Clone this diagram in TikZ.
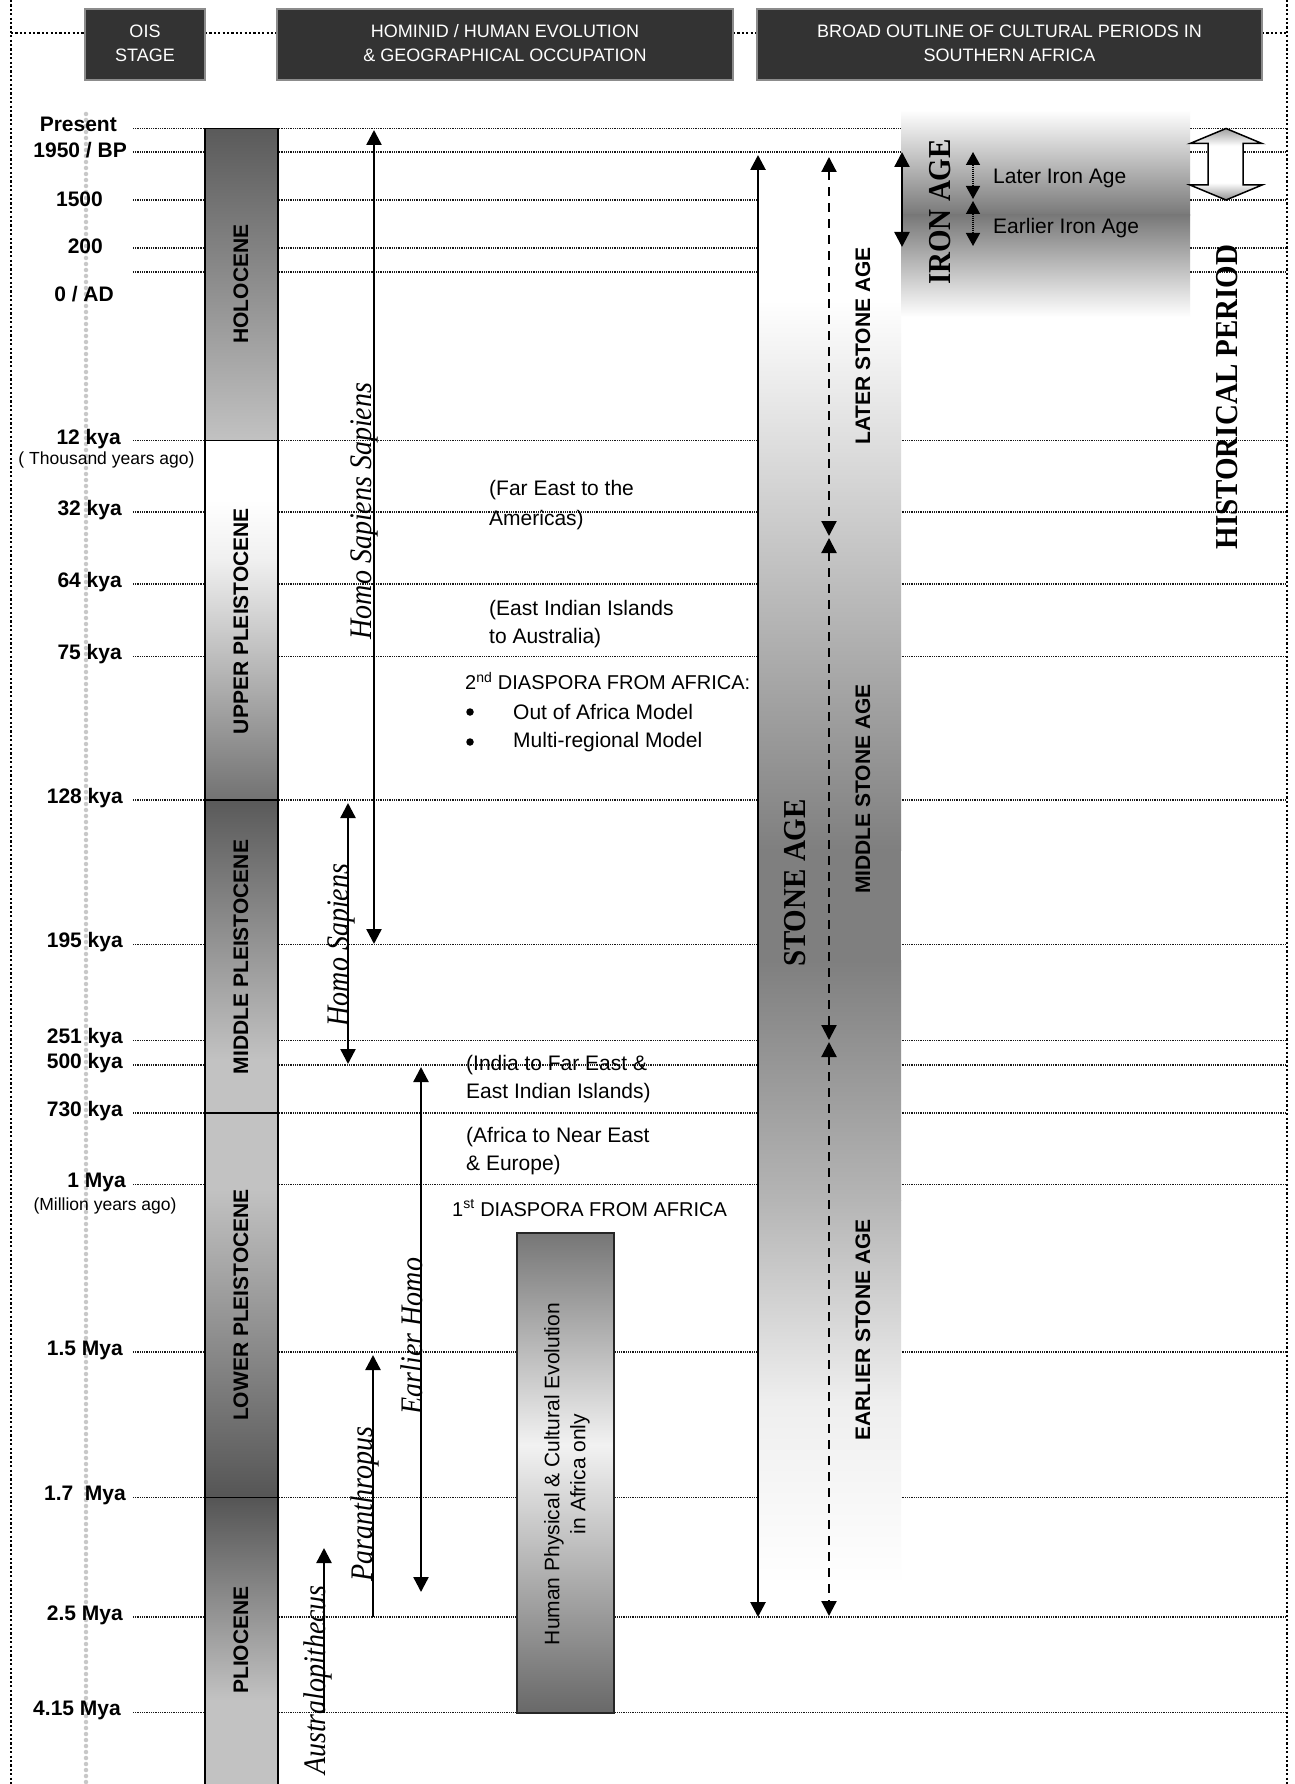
\documentclass[tikz,border=0pt]{standalone}
\usepackage{fontspec}
\setmainfont{Liberation Sans}
\newfontfamily\lsans{Liberation Sans}
\newfontfamily\lserif{Liberation Serif}
\usetikzlibrary{arrows.meta}
\definecolor{hdrfill}{HTML}{333333}
\definecolor{hdrline}{HTML}{8C8C8C}
\definecolor{gdot}{HTML}{C8C8C8}
\definecolor{lightg}{HTML}{C2C2C2}
\definecolor{darkg}{HTML}{5A5A5A}
\definecolor{darkh}{HTML}{555555}
\definecolor{midg}{HTML}{727272}
\definecolor{paleg}{HTML}{F0F0F0}
\definecolor{stoneg}{HTML}{7F7F7F}
\definecolor{stoneB}{HTML}{B5B5B5}
\definecolor{stoneC}{HTML}{EEEEEE}
\definecolor{irong}{HTML}{787878}
\definecolor{humA}{HTML}{767676}
\definecolor{humB}{HTML}{F2F2F2}
\definecolor{humC}{HTML}{686868}
\definecolor{histA}{HTML}{A0A0A0}
\definecolor{histB}{HTML}{909090}
\pgfdeclareverticalshading{histshade}{100bp}{color(0bp)=(histB); color(25bp)=(histB); color(37bp)=(white); color(63bp)=(white); color(75bp)=(histA); color(100bp)=(histA)}
\begin{document}
\begin{tikzpicture}[x=1pt,y=-1pt,
  hline/.style={line width=1.3pt, draw=black!90, dash pattern=on 1pt off 0.8pt},
  frameline/.style={line width=2.2pt, draw=black, dash pattern=on 2.2pt off 2.2pt},
  lab/.style={font=\lsans\bfseries\fontsize{21}{24}\selectfont, inner sep=0pt, anchor=east},
  sublab/.style={font=\lsans\fontsize{17.5}{20}\selectfont, inner sep=0pt},
  hdrbox/.style={draw=hdrline, line width=1.5pt, fill=hdrfill},
  hdrtext/.style={text=white, font=\lsans\fontsize{18}{24}\selectfont, align=center, inner sep=0pt},
  oistext/.style={font=\lsans\bfseries\fontsize{21}{24}\selectfont, rotate=90, inner sep=0pt},
  species/.style={font=\lserif\itshape\fontsize{28}{30}\selectfont, rotate=90, inner sep=0pt},
  midtext/.style={font=\lsans\fontsize{21}{28}\selectfont, align=left, anchor=west, inner sep=0pt},
  captext/.style={font=\lsans\fontsize{20}{28}\selectfont, align=left, anchor=west, inner sep=0pt},
  agebig/.style={font=\lserif\bfseries\fontsize{29}{32}\selectfont, rotate=90, inner sep=0pt},
  agesmall/.style={font=\lsans\bfseries\fontsize{21}{24}\selectfont, rotate=90, inner sep=0pt},
  bulletdot/.style={circle, fill=black, inner sep=0pt, minimum size=7.5pt},
  arr/.style={line width=2.4pt, draw=black},
  dasharr/.style={line width=2.2pt, draw=black, dash pattern=on 9pt off 7pt},
  dotarr/.style={line width=1.5pt, draw=black, dash pattern=on 1pt off 1pt},
  tipbig/.tip={Triangle[width=15pt,length=15pt]},
  tipsmall/.tip={Triangle[width=14pt,length=13pt]}
]
\useasboundingbox (0,0) rectangle (1294,1784);
\fill[white] (0,0) rectangle (1294,1784);

% gray dotted guide
\draw[gdot, line width=4.5pt, line cap=round, dash pattern=on 0pt off 6pt] (86,114) -- (86,1784);

% horizontal time lines
\foreach \yy in {128.5,152,200,248,272,440.5,512,584,656.5,800,944.5,1040.5,1065,1113,1184.5,1352,1497.5,1617,1712.7}
  \draw[hline] (133,\yy) -- (1286,\yy);

% OIS column
\shade[top color=darkg, bottom color=lightg] (205,128.5) rectangle (278,440.5);
\fill[white] (205,440.5) rectangle (278,500);
\shade[top color=white, bottom color=paleg] (205,499.5) rectangle (278,560);
\shade[top color=paleg, bottom color=midg] (205,559.5) rectangle (278,800);
\shade[top color=darkg, bottom color=lightg] (205,800) rectangle (278,1060);
\fill[lightg] (205,1059.5) rectangle (278,1190);
\shade[top color=lightg, bottom color=darkh] (205,1189.5) rectangle (278,1497.5);
\shade[top color=darkh, bottom color=lightg] (205,1497.5) rectangle (278,1700);
\fill[lightg] (205,1699.5) rectangle (278,1790);
\draw[line width=1.5pt] (205,1790) -- (205,128.5) -- (278,128.5) -- (278,1790);
\foreach \yy in {440.5,800,1113,1497.5}
  \draw[line width=1.5pt] (205,\yy) -- (278,\yy);

% Stone age column
\fill[white] (757,154) rectangle (901,300.5);
\shade[top color=white, bottom color=stoneg] (757,300) rectangle (901,850.5);
\fill[stoneg] (757,850) rectangle (901,960.5);
\shade[top color=stoneg, bottom color=stoneB] (757,960) rectangle (901,1200.5);
\shade[top color=stoneB, bottom color=stoneC] (757,1200) rectangle (901,1400.5);
\shade[top color=stoneC, bottom color=white] (757,1400) rectangle (901,1585);

% Iron age box
\shade[top color=white, bottom color=irong] (901,110) rectangle (1190,215.5);
\shade[top color=irong, bottom color=white] (901,215) rectangle (1190,317);

% Human physical box
\shade[top color=humA, bottom color=humB] (517,1233) rectangle (614,1445.5);
\shade[top color=humB, bottom color=humC] (517,1445) rectangle (614,1713);
\draw[line width=2pt, draw=black!85] (517,1233) rectangle (614,1713);

% Historical period block arrow
\shade[shading=histshade, draw=black, line width=1.5pt]
  (1226,128.5) -- (1262,143.5) -- (1243,143.5) -- (1243,185) -- (1262,185) -- (1226,200)
  -- (1190,185) -- (1208,185) -- (1208,143.5) -- (1190,143.5) -- cycle;

% Frame
\draw[frameline] (11,0) -- (11,1784);
\draw[frameline] (1287,0) -- (1287,1784);
\draw[frameline] (11,33) -- (85,33);
\draw[frameline] (205,33) -- (277,33);
\draw[frameline] (733,33) -- (757,33);
\draw[frameline] (1262,33) -- (1287,33);

% Header boxes
\draw[hdrbox] (85,9) rectangle (205,80);
\draw[hdrbox] (277,9) rectangle (733,80);
\draw[hdrbox] (757,9) rectangle (1262,80);
\node[hdrtext] (h1) at (145,43) {OIS\\STAGE};
\node[hdrtext] (h2) at (505,43) {HOMINID / HUMAN EVOLUTION\\\& GEOGRAPHICAL OCCUPATION};
\node[hdrtext] (h3) at (1009.5,43) {BROAD OUTLINE OF CULTURAL PERIODS IN\\SOUTHERN AFRICA};

% Left labels
\node[lab] (lPresent) at (117,124) {Present};
\node[lab] (l1950) at (127,150) {1950 / BP};
\node[lab] (l1500) at (103,199) {1500};
\node[lab] (l200) at (103,246) {200};
\node[lab] (lAD) at (114,294) {0 / AD};
\node[lab] (l12) at (121,439) {12 kya};
\node[sublab] (lthou) at (106.5,460) {( Thousand years ago)};
\node[lab] (l32) at (122,510) {32 kya};
\node[lab] (l64) at (122,582) {64 kya};
\node[lab] (l75) at (122,654.5) {75 kya};
\node[lab] (l128) at (123,798) {128 kya};
\node[lab] (l195) at (123,942.5) {195 kya};
\node[lab] (l251) at (123,1038.5) {251 kya};
\node[lab] (l500) at (123,1063) {500 kya};
\node[lab] (l730) at (123,1111) {730 kya};
\node[lab] (l1M) at (126,1182.5) {1 Mya};
\node[sublab] (lmil) at (105,1206) {(Million years ago)};
\node[lab] (l15) at (123,1350) {1.5 Mya};
\node[lab] (l17) at (126,1495) {1.7~~Mya};
\node[lab] (l25) at (123,1615) {2.5 Mya};
\node[lab] (l415) at (121,1710.5) {4.15 Mya};

% OIS stage names
\node[oistext] (tHolo) at (241,284) {HOLOCENE};
\node[oistext] (tUpper) at (241,621) {UPPER PLEISTOCENE};
\node[oistext] (tMiddle) at (241,957) {MIDDLE PLEISTOCENE};
\node[oistext] (tLower) at (241,1305) {LOWER PLEISTOCENE};
\node[oistext] (tPlio) at (241,1640) {PLIOCENE};

% Hominid arrows
\coordinate (hssT) at (374,130);
\coordinate (hssB) at (374,944);
\coordinate (hsT) at (348,803);
\coordinate (hsB) at (348,1064);
\coordinate (ehT) at (421,1067);
\coordinate (ehB) at (421,1592);
\coordinate (parB) at (373,1617);
\coordinate (parT) at (373,1355);
\coordinate (ausB) at (324,1713);
\coordinate (ausT) at (324,1548);
\draw[arr, tipbig-tipbig] (hssT) -- (hssB);
\draw[arr, tipbig-tipbig] (hsT) -- (hsB);
\draw[arr, tipbig-tipbig] (ehT) -- (ehB);
\draw[arr, -tipbig] (parB) -- (parT);
\draw[arr, -tipbig] (ausB) -- (ausT);

\node[species] (nHSS) at (364,511) {\scalebox{1}[1.12]{Homo Sapiens Sapiens}};
\node[species] (nHS) at (341,945) {\scalebox{1}[1.12]{Homo Sapiens}};
\node[species] (nEH) at (412,1336) {\scalebox{1}[1.12]{Earlier Homo}};
\node[species] (nPar) at (365,1504) {\scalebox{1}[1.12]{Paranthropus}};
\node[species] (nAus) at (318,1680) {\scalebox{1}[1.12]{Australopithecus}};

% Middle texts
\node[midtext, font=\lsans\fontsize{21}{30}\selectfont] (tFar) at (489,505) {(Far East to the\\Americas)};
\node[midtext] (tEast) at (489,624) {(East Indian Islands\\to Australia)};
\node[captext] (tDia2) at (465,681) {2\textsuperscript{nd} DIASPORA FROM AFRICA:};
\node[bulletdot] (b1) at (470,712) {};
\node[bulletdot] (b2) at (470,742) {};
\node[midtext] (tOut) at (513,712) {Out of Africa Model};
\node[midtext] (tMulti) at (513,742) {Multi-regional Model};
\node[midtext] (tIndia) at (466,1079) {(India to Far East \&\\East Indian Islands)};
\node[midtext] (tNear) at (466,1151) {(Africa to Near East\\\& Europe)};
\node[captext] (tDia1) at (452,1208) {1\textsuperscript{st} DIASPORA FROM AFRICA};
\node[font=\lsans\fontsize{21}{26}\selectfont, align=center, rotate=90, inner sep=0pt] (tHum) at (567,1474)
  {Human Physical \& Cultural Evolution\\in Africa only};

% Cultural periods arrows
\coordinate (saT) at (758,155);
\coordinate (saB) at (758,1617);
\coordinate (lsaT) at (829,157);
\coordinate (lsaB) at (829,536);
\coordinate (msaT) at (829,538);
\coordinate (msaB) at (829,1040);
\coordinate (esaT) at (829,1042);
\coordinate (esaB) at (829,1616);
\coordinate (iaT) at (902,152);
\coordinate (iaB) at (902,247);
\coordinate (liaT) at (973,152);
\coordinate (liaB) at (973,199);
\coordinate (eiaT) at (973,201);
\coordinate (eiaB) at (973,246);
\draw[arr, line width=2.7pt, tipbig-tipbig] (saT) -- (saB);
\draw[dasharr, tipbig-tipbig] (lsaT) -- (lsaB);
\draw[dasharr, tipbig-tipbig] (msaT) -- (msaB);
\draw[dasharr, tipbig-tipbig] (esaT) -- (esaB);
\draw[arr, tipbig-tipbig] (iaT) -- (iaB);
\draw[dotarr, tipsmall-tipsmall] (liaT) -- (liaB);
\draw[dotarr, tipsmall-tipsmall] (eiaT) -- (eiaB);

% Cultural periods texts
\node[agebig] (tStone) at (795,883) {\scalebox{1}[1.1]{STONE AGE}};
\node[agebig] (tIron) at (940,212) {\scalebox{1}[1.1]{IRON AGE}};
\node[agebig] (tHist) at (1227,397) {\scalebox{1}[1.1]{HISTORICAL PERIOD}};
\node[agesmall] (tLSA) at (863,346) {LATER STONE AGE};
\node[agesmall] (tMSA) at (863,789) {MIDDLE STONE AGE};
\node[agesmall] (tESA) at (863,1330) {EARLIER STONE AGE};
\node[midtext] (tLIA) at (993,178) {Later Iron Age};
\node[midtext] (tEIA) at (993,228) {Earlier Iron Age};
\end{tikzpicture}
\end{document}
